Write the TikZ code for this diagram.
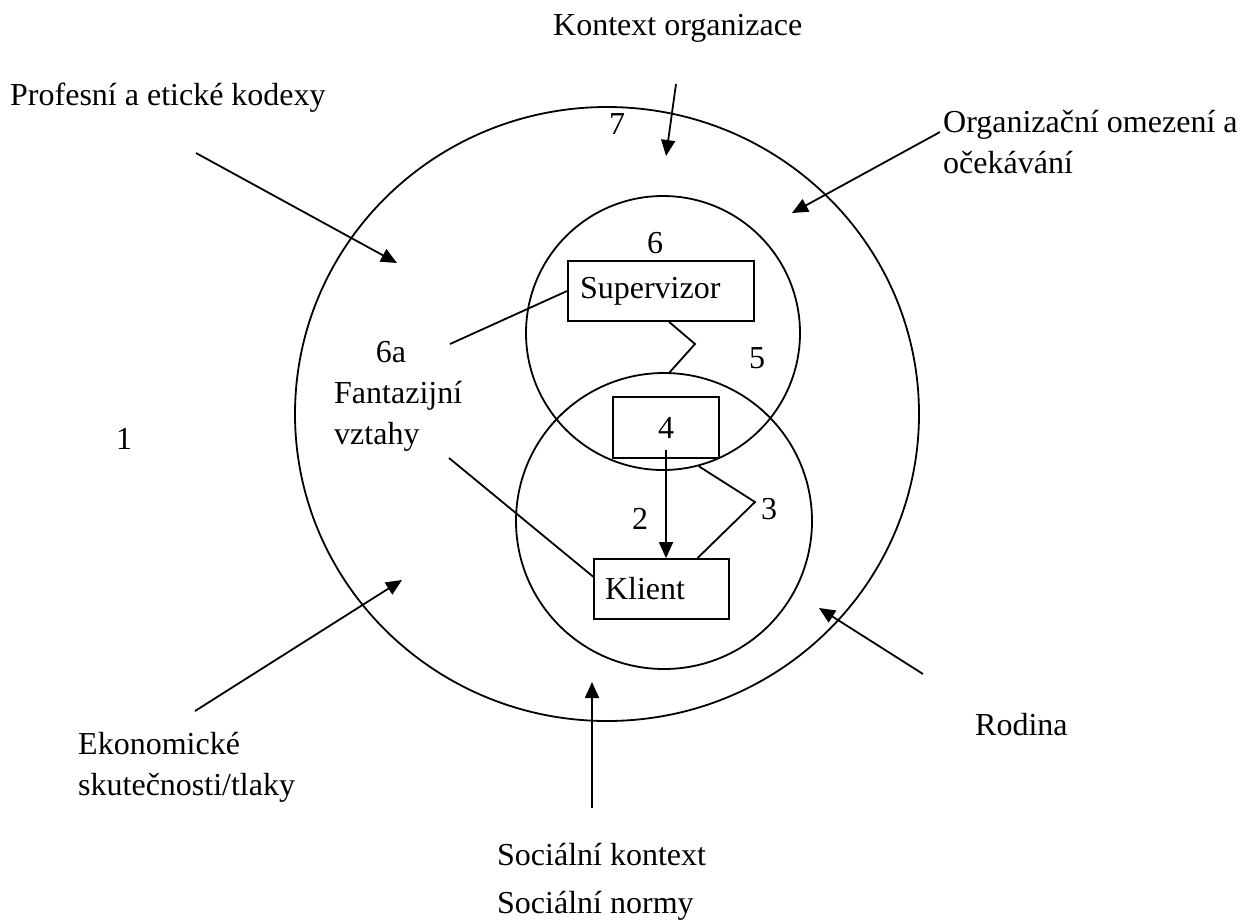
\documentclass[tikz,border=0pt]{standalone}
\usepackage{fontspec}
\setmainfont{Liberation Serif}
\usetikzlibrary{arrows.meta,shapes.geometric,calc}
\tikzset{
  txt/.style={anchor=base west,inner sep=0pt,font=\fontsize{32}{38}\selectfont},
  ctxt/.style={anchor=base,inner sep=0pt,font=\fontsize{32}{38}\selectfont},
  ring/.style={draw,circle,inner sep=0pt,line width=1.8pt},
  boxn/.style={draw,rectangle,inner sep=0pt,line width=1.8pt,font=\fontsize{32}{38}\selectfont},
  conn/.style={line width=1.8pt},
  arr/.style={line width=1.8pt,-{Triangle[length=16pt,width=14pt]}}
}
\begin{document}
\begin{tikzpicture}[x=1pt,y=-1pt]
\useasboundingbox (0,0) rectangle (1256,922);
% circles
\node[draw,ellipse,inner sep=0pt,line width=1.8pt,minimum width=624pt,minimum height=614pt] (outer) at (607,414) {};
\node[ring,minimum size=274pt] (sup) at (663,333) {};
\node[ring,minimum size=296pt] (cli) at (664,521) {};
% boxes
\node[boxn,minimum height=60pt,text width=162pt,inner xsep=12pt,align=left] (S) at (661,291) {Supervizor};
\node[boxn,minimum height=61pt,minimum width=106pt] (F) at (666,427.5) {4};
\node[boxn,minimum height=60pt,text width=113pt,inner xsep=11pt,align=left] (K) at (661.5,589) {Klient};
% labels
\node[txt] (tko) at (553,35) {Kontext organizace};
\node[txt] (tpr) at (10,105) {Profesní a etické kodexy};
\node[txt] (tor1) at (943,132) {Organizační omezení a};
\node[txt] (tor2) at (943,173) {očekávání};
\node[ctxt] (n7) at (617,134) {7};
\node[ctxt] (n6) at (655,253) {6};
\node[ctxt] (n5) at (757,368) {5};
\node[ctxt] (n6a) at (391,362) {6a};
\node[txt] (tfa1) at (334,403) {Fantazijní};
\node[txt] (tfa2) at (334,444) {vztahy};
\node[ctxt] (n1) at (124,449) {1};
\node[ctxt] (n2) at (640,529) {2};
\node[ctxt] (n3) at (769,519) {3};
\node[txt] (tek1) at (78,754) {Ekonomické};
\node[txt] (tek2) at (78,795) {skutečnosti/tlaky};
\node[txt] (tro) at (975,735) {Rodina};
\node[txt] (tso1) at (497,865) {Sociální kontext};
\node[txt] (tso2) at (497,913) {Sociální normy};
% coordinates
\coordinate (ko0) at (676,84);   \coordinate (ko1) at (666,156);
\coordinate (pr0) at (196,153);  \coordinate (pr1) at (397,263);
\coordinate (or0) at (940,132);  \coordinate (or1) at (792,213);
\coordinate (ek0) at (195,711);  \coordinate (ek1) at (402,580);
\coordinate (so0) at (592,808);  \coordinate (so1) at (592,682);
\coordinate (ro0) at (923,674);  \coordinate (ro1) at (819,608);
\coordinate (l6a) at (450,344);
\coordinate (lfa) at (449,458);
\coordinate (z1) at (695,344);
\coordinate (z3) at (755,502);
\coordinate (a2) at (666,450);
% outer arrows
\draw[arr] (ko0) -- (ko1);
\draw[arr] (pr0) -- (pr1);
\draw[arr] (or0) -- (or1);
\draw[arr] (ek0) -- (ek1);
\draw[arr] (so0) -- (so1);
\draw[arr] (ro0) -- (ro1);
% inner connectors
\draw[conn] (l6a) -- (S.west);
\draw[conn] (lfa) -- ($(K.north west)!0.3!(K.south west)$);
\draw[conn] ($(S.south west)!0.543!(S.south east)$) -- (z1) -- ($(cli.center)+(5,-148)$);
\draw[conn] (sup.-75) -- (z3) -- ($(K.north west)!0.763!(K.north east)$);
\draw[arr] (a2) -- (a2 |- K.north);
\end{tikzpicture}
\end{document}
